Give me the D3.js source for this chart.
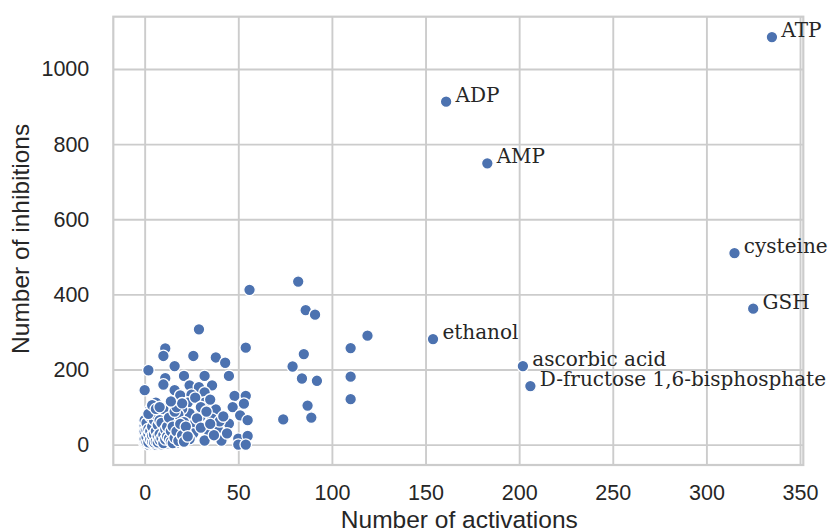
<!DOCTYPE html>
<html>
<head>
<meta charset="utf-8">
<script src="https://cdn.jsdelivr.net/npm/d3@7"></script>
<style>
  html, body { margin: 0; padding: 0; background: #ffffff; }
  svg { display: block; }
</style>
</head>
<body>
<svg id="chart" width="834" height="531"></svg>
<script>
// Compounds that are annotated with their names
const namedCompounds = ["ATP", "ADP", "AMP", "cysteine", "GSH", "ethanol", "ascorbic acid", "D-fructose 1,6-bisphosphate"];
const namedActivations = [335, 161, 183, 315, 325, 154, 202, 206];
const namedInhibitions = [1085, 913, 749, 510, 362, 281, 209, 156];

// All remaining compounds (activations, inhibitions)
const otherActivations = [
  29, 11, 10, 26, 38, 43, 54, 16, 2, 11, 21, 32, 45, 10, 0, 16, 24, 29, 36, 19,
  25, 32, 48, 54, 6, 13, 23, 32, 38, 47, 53, 3, 24, 30, 36, 51, 45, 55, 1, 8,
  17, 25, 34, 39, 22, 32, 41, 50, 55, 50, 54, 0, 11, 15,
  56, 74, 79, 82, 86, 91, 119, 110, 85, 84, 92, 110, 110, 87, 89,
  27, 30, 35, 20, 28, 33, 40, 18, 26, 37, 44, 30, 20, 16, 35, 42,
  0, 0, 0, 0, 0, 0, 1, 1, 1, 1, 2, 2, 2, 2, 2, 3, 3, 3, 3, 4,
  4, 4, 4, 5, 5, 5, 5, 5, 6, 6, 6, 6, 7, 7, 7, 7, 8, 8, 8, 9,
  9, 9, 9, 10, 10, 10, 11, 11, 11, 12, 12, 12, 13, 13, 14, 14, 15, 15, 16, 17,
  18, 18, 19, 20, 21, 22, 24, 12, 6, 3,
  0, 0, 0, 1, 1, 1, 1, 2, 2, 2, 3, 3, 3, 4, 4, 4, 4, 5, 5, 5,
  6, 6, 6, 7, 7, 7, 8, 8, 8, 9, 9, 10, 10, 10, 11, 11, 12, 12, 13, 13,
  14, 14, 15, 15, 16, 16, 17, 17, 18, 19, 20, 20, 21, 22, 23, 2, 4, 6, 8, 14
];
const otherInhibitions = [
  307, 256, 236, 236, 232, 218, 258, 209, 198, 177, 183, 183, 183, 160, 145, 145, 158, 153, 158, 131,
  133, 139, 130, 130, 112, 103, 112, 112, 94, 100, 109, 94, 83, 76, 69, 78, 56, 65, 56, 65,
  60, 51, 38, 43, 20, 11, 11, 16, 23, 0, 0, 3, 34, 11,
  412, 67, 208, 434, 358, 346, 290, 257, 241, 176, 170, 181, 121, 104, 72,
  125, 100, 120, 95, 70, 88, 62, 75, 30, 25, 30, 45, 40, 35, 55, 75,
  5, 10, 20, 30, 40, 50, 2, 15, 25, 45, 0, 12, 18, 35, 60, 3, 9, 22, 50, 1,
  14, 40, 70, 2, 11, 19, 33, 55, 0, 16, 26, 45, 3, 13, 30, 62, 5, 20, 38, 1,
  10, 27, 48, 8, 18, 42, 4, 24, 55, 2, 15, 33, 6, 45, 20, 68, 10, 30, 52, 5,
  25, 80, 40, 12, 60, 30, 15, 85, 75, 70,
  15, 35, 65, 7, 20, 38, 58, 6, 28, 42, 14, 36, 75, 8, 24, 48, 90, 6, 27, 65,
  9, 36, 80, 6, 22, 52, 12, 28, 65, 17, 58, 4, 26, 95, 14, 40, 22, 48, 16, 72,
  8, 36, 4, 48, 18, 88, 35, 100, 10, 55, 25, 110, 8, 48, 22, 82, 105, 95, 100, 115
];

const xTicks = [0, 50, 100, 150, 200, 250, 300, 350];
const yTicks = [0, 200, 400, 600, 800, 1000];
const xTitle = "Number of activations";
const yTitle = "Number of inhibitions";

const svg = d3.select("#chart");
const plot = { left: 113.3, right: 803.3, top: 16.7, bottom: 465 };

const points = otherActivations.map((a, i) => ({ x: a, y: otherInhibitions[i] }))
  .concat(namedCompounds.map((n, i) => ({ x: namedActivations[i], y: namedInhibitions[i], name: n })));

// Axis limits padded by 5% of the data span on each side
function padded(values) {
  const [lo, hi] = d3.extent(values);
  const m = (hi - lo) * 0.05;
  return [lo - m, hi + m];
}
const x = d3.scaleLinear().domain(padded(points.map(d => d.x))).range([plot.left, plot.right]);
const y = d3.scaleLinear().domain(padded(points.map(d => d.y))).range([plot.bottom, plot.top]);

const gridColor = "#cccccc";
const textColor = "#262626";

// Grid lines
svg.append("g")
  .attr("transform", `translate(0,${plot.bottom})`)
  .call(d3.axisBottom(x).tickValues(xTicks).tickSize(-(plot.bottom - plot.top)).tickFormat(""))
  .call(g => g.select(".domain").remove())
  .call(g => g.selectAll("line").attr("stroke", gridColor).attr("stroke-width", 1.9));
svg.append("g")
  .attr("transform", `translate(${plot.left},0)`)
  .call(d3.axisLeft(y).tickValues(yTicks).tickSize(-(plot.right - plot.left)).tickFormat(""))
  .call(g => g.select(".domain").remove())
  .call(g => g.selectAll("line").attr("stroke", gridColor).attr("stroke-width", 1.9));

// Frame
svg.append("rect")
  .attr("x", plot.left).attr("y", plot.top)
  .attr("width", plot.right - plot.left).attr("height", plot.bottom - plot.top)
  .attr("fill", "none").attr("stroke", gridColor).attr("stroke-width", 2.2);

// Tick labels
const xAxis = svg.append("g")
  .attr("transform", `translate(0,${plot.bottom})`)
  .call(d3.axisBottom(x).tickValues(xTicks).tickSize(0).tickPadding(20).tickFormat(d3.format("d")));
xAxis.select(".domain").remove();
xAxis.selectAll("text")
  .attr("fill", textColor)
  .style("font-family", "'Liberation Sans', Arial, sans-serif")
  .style("font-size", "21.5px");

const yAxis = svg.append("g")
  .attr("transform", `translate(${plot.left},0)`)
  .call(d3.axisLeft(y).tickValues(yTicks).tickSize(0).tickPadding(24).tickFormat(d3.format("d")));
yAxis.select(".domain").remove();
yAxis.selectAll("text")
  .attr("fill", textColor)
  .style("font-family", "'Liberation Sans', Arial, sans-serif")
  .style("font-size", "21.5px");

// Axis titles
svg.append("text")
  .attr("x", (plot.left + plot.right) / 2 + 1)
  .attr("y", 528)
  .attr("text-anchor", "middle")
  .attr("fill", textColor)
  .style("font-family", "'Liberation Sans', Arial, sans-serif")
  .style("font-size", "24.5px")
  .text(xTitle);

svg.append("text")
  .attr("transform", `translate(28.5,${(plot.top + plot.bottom) / 2 - 2}) rotate(-90)`)
  .attr("text-anchor", "middle")
  .attr("fill", textColor)
  .style("font-family", "'Liberation Sans', Arial, sans-serif")
  .style("font-size", "24.5px")
  .text(yTitle);

// Scatter points
svg.append("g")
  .selectAll("circle")
  .data(points)
  .join("circle")
  .attr("cx", d => x(d.x))
  .attr("cy", d => y(d.y))
  .attr("r", 5.8)
  .attr("fill", "#4c72b0")
  .attr("stroke", "#ffffff")
  .attr("stroke-width", 1.3);

// Name annotations, offset 5 activations to the right of each point
svg.append("g")
  .selectAll("text")
  .data(points.filter(d => d.name))
  .join("text")
  .attr("x", d => x(d.x + 5))
  .attr("y", d => y(d.y))
  .attr("fill", "#262626")
  .style("font-family", "'DejaVu Serif', serif")
  .style("font-size", "20px")
  .text(d => d.name);
</script>
</body>
</html>
